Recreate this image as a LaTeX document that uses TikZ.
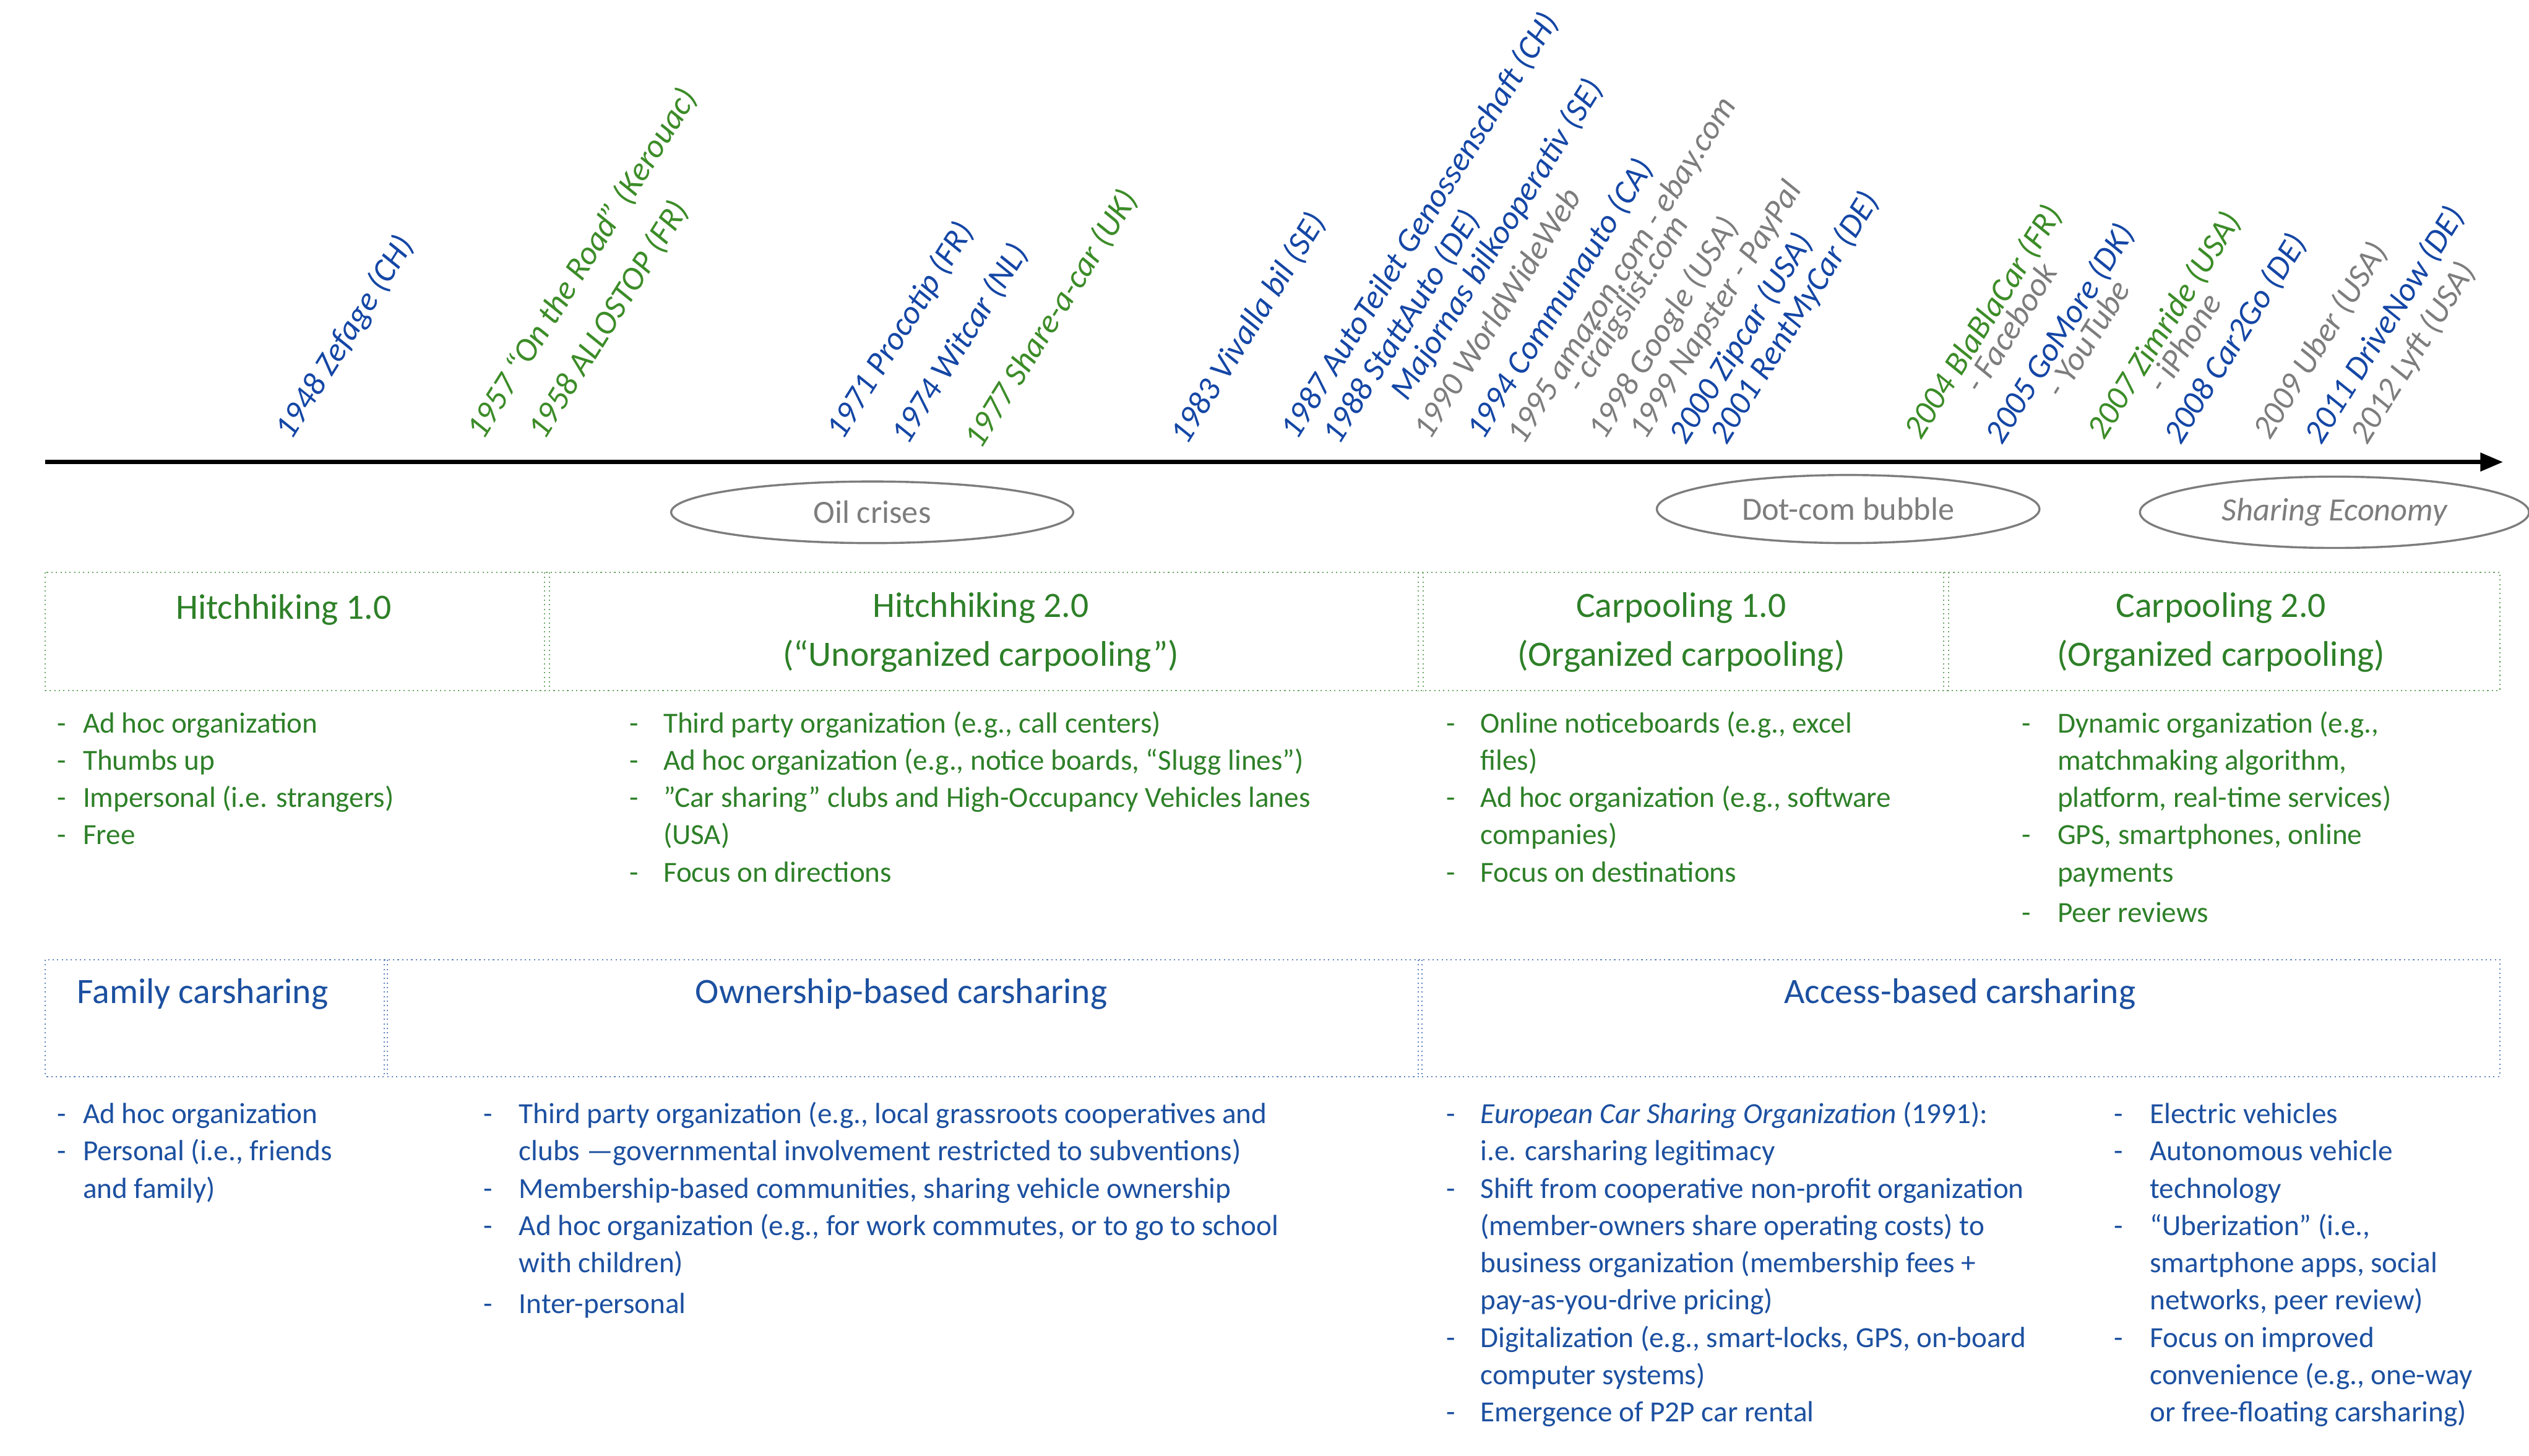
\documentclass[tikz,border=0pt]{standalone}
\usepackage{fontspec}
\setmainfont{Carlito}
\usetikzlibrary{arrows.meta,shapes.geometric}
\definecolor{hg}{RGB}{46,128,40}
\definecolor{hb}{RGB}{28,80,160}
\definecolor{tb}{RGB}{20,70,165}
\definecolor{tg}{RGB}{60,140,40}
\definecolor{gr}{RGB}{125,125,125}
\begin{document}
\begin{tikzpicture}[x=1pt,y=-1pt,
  lab/.style={rotate=58,anchor=base west,inner sep=0pt,font=\fontsize{20.5}{22}\selectfont\itshape},
  ell/.style={draw=gr,line width=1.3pt,ellipse,minimum width=#1,inner sep=0pt},
  ell/.default=240,
  hdr/.style={align=center,font=\fontsize{22}{30}\selectfont},
  bul/.style={anchor=base west,inner sep=0pt,font=\fontsize{18}{23}\selectfont},
  gbox/.style={draw=hg!70,dotted,line width=0.8pt},
  bbox/.style={draw=hb!70,dotted,line width=0.8pt}]
\useasboundingbox (0,0) rectangle (1560,898);
% axis
\coordinate (a0) at (28,285); \coordinate (a1) at (1544,285);
\draw[line width=2.6pt,-{Triangle[length=14pt,width=11pt]}] (a0) -- (a1);
% labels
\node[lab,text=tb] (l1) at (180,272) {1948 Zefage (CH)};
\node[lab,text=tg] (l2) at (298,272) {1957 “On the Road” (Kerouac)};
\node[lab,text=tg] (l3) at (336,272) {1958 ALLOSTOP (FR)};
\node[lab,text=tb] (l4) at (520,272) {1971 Procotip (FR)};
\node[lab,text=tb] (l5) at (560,275) {1974 Witcar (NL)};
\node[lab,text=tg] (l6) at (605,278) {1977 Share-a-car (UK)};
\node[lab,text=tb] (l7) at (732,275) {1983 Vivalla bil (SE)};
\node[lab,text=tb] (l8) at (800,272) {1987 AutoTeilet Genossenschaft (CH)};
\node[lab,text=tb] (l9) at (826,275) {1988 StattAuto (DE)};
\node[lab,text=tb] (l9b) at (868,248) {Majornas bilkooperativ (SE)};
\node[lab,text=gr] (l10) at (882,272) {1990 WorldWideWeb};
\node[lab,text=tb] (l11) at (915,272) {1994 Communauto (CA)};
\node[lab,text=gr] (l12) at (940,275) {1995 amazon.com - ebay.com};
\node[lab,text=gr] (l12b) at (976,244) {- craigslist.com};
\node[lab,text=gr] (l13) at (990,272) {1998 Google (USA)};
\node[lab,text=gr] (l14) at (1015,272) {1999 Napster - PayPal};
\node[lab,text=tb] (l15) at (1040,275) {2000 Zipcar (USA)};
\node[lab,text=tb] (l16) at (1065,275) {2001 RentMyCar (DE)};
\node[lab,text=tg] (l17) at (1185,272) {2004 BlaBlaCar (FR)};
\node[lab,text=gr] (l17b) at (1222,244) {- Facebook};
\node[lab,text=tb] (l18) at (1235,275) {2005 GoMore (DK)};
\node[lab,text=gr] (l18b) at (1272,247) {- YouTube};
\node[lab,text=tg] (l19) at (1298,272) {2007 Zimride (USA)};
\node[lab,text=gr] (l19b) at (1335,244) {- iPhone};
\node[lab,text=tb] (l20) at (1345,275) {2008 Car2Go (DE)};
\node[lab,text=gr] (l21) at (1400,272) {2009 Uber (USA)};
\node[lab,text=tb] (l22) at (1432,275) {2011 DriveNow (DE)};
\node[lab,text=gr] (l23) at (1460,275) {2012 Lyft (USA)};
% ellipses
\node[ell=248,minimum height=38,text=gr,font=\fontsize{20}{22}\selectfont] (e1) at (538,316) {Oil crises};
\node[ell=236,minimum height=42,text=gr,font=\fontsize{20}{22}\selectfont] (e2) at (1140,314) {Dot-com bubble};
\node[ell=240,minimum height=44,text=gr,font=\fontsize{20}{22}\selectfont\itshape] (e3) at (1440,316) {Sharing Economy};
% green box row
\draw[gbox] (28,353) rectangle (1542,426);
\foreach \x in {336,875,1199}{\draw[gbox] (\x,353) -- (\x,426); \draw[gbox] (\x+3,353) -- (\x+3,426);}
\node[hdr,text=hg] (h1) at (175,376) {Hitchhiking 1.0};
\node[hdr,text=hg] (h2) at (605,390) {Hitchhiking 2.0\\(“Unorganized carpooling”)};
\node[hdr,text=hg] (h3) at (1037,390) {Carpooling 1.0\\(Organized carpooling)};
\node[hdr,text=hg] (h4) at (1370,390) {Carpooling 2.0\\(Organized carpooling)};
% top bullets
\node[bul,text=hg] (t1) at (35,452) {\begin{tabular}[t]{@{}p{16pt}@{}l@{}}
-&Ad hoc organization\\ -&Thumbs up\\ -&Impersonal (i.e. strangers)\\ -&Free\end{tabular}};
\node[bul,text=hg] (t2) at (388,452) {\begin{tabular}[t]{@{}p{21pt}@{}l@{}}
-&Third party organization (e.g., call centers)\\
-&Ad hoc organization (e.g., notice boards, “Slugg lines”)\\
-&”Car sharing” clubs and High-Occupancy Vehicles lanes\\ &(USA)\\
-&Focus on directions\end{tabular}};
\node[bul,text=hg] (t3) at (892,452) {\begin{tabular}[t]{@{}p{21pt}@{}l@{}}
-&Online noticeboards (e.g., excel\\ &files)\\
-&Ad hoc organization (e.g., software\\ &companies)\\
-&Focus on destinations\end{tabular}};
\node[bul,text=hg] (t4) at (1247,452) {\begin{tabular}[t]{@{}p{22pt}@{}l@{}}
-&Dynamic organization (e.g.,\\ &matchmaking algorithm,\\ &platform, real-time services)\\
-&GPS, smartphones, online\\ &payments\\[2pt]
-&Peer reviews\end{tabular}};
% blue box row
\draw[bbox] (28,592) rectangle (1542,664);
\foreach \x in {237,875}{\draw[bbox] (\x,592) -- (\x,664); \draw[bbox] (\x+2,592) -- (\x+2,664);}
\node[hdr,text=hb] (f1) at (125,613) {Family carsharing};
\node[hdr,text=hb] (f2) at (556,613) {Ownership-based carsharing};
\node[hdr,text=hb] (f3) at (1209,613) {Access-based carsharing};
% bottom bullets
\node[bul,text=hb] (b1) at (35,693) {\begin{tabular}[t]{@{}p{16pt}@{}l@{}}
-&Ad hoc organization\\ -&Personal (i.e., friends\\ &and family)\end{tabular}};
\node[bul,text=hb] (b2) at (298,693) {\begin{tabular}[t]{@{}p{22pt}@{}l@{}}
-&Third party organization (e.g., local grassroots cooperatives and\\ &clubs —governmental involvement restricted to subventions)\\
-&Membership-based communities, sharing vehicle ownership\\
-&Ad hoc organization (e.g., for work commutes, or to go to school\\ &with children)\\[2pt]
-&Inter-personal\end{tabular}};
\node[bul,text=hb] (b3) at (892,693) {\begin{tabular}[t]{@{}p{21pt}@{}l@{}}
-&\textit{European Car Sharing Organization} (1991):\\ &i.e. carsharing legitimacy\\
-&Shift from cooperative non-profit organization\\ &(member-owners share operating costs) to\\ &business organization (membership fees +\\ &pay-as-you-drive pricing)\\
-&Digitalization (e.g., smart-locks, GPS, on-board\\ &computer systems)\\
-&Emergence of P2P car rental\end{tabular}};
\node[bul,text=hb] (b4) at (1304,693) {\begin{tabular}[t]{@{}p{22pt}@{}l@{}}
-&Electric vehicles\\
-&Autonomous vehicle\\ &technology\\
-&“Uberization” (i.e.,\\ &smartphone apps, social\\ &networks, peer review)\\
-&Focus on improved\\ &convenience (e.g., one-way\\ &or free-floating carsharing)\end{tabular}};
\end{tikzpicture}
\end{document}
